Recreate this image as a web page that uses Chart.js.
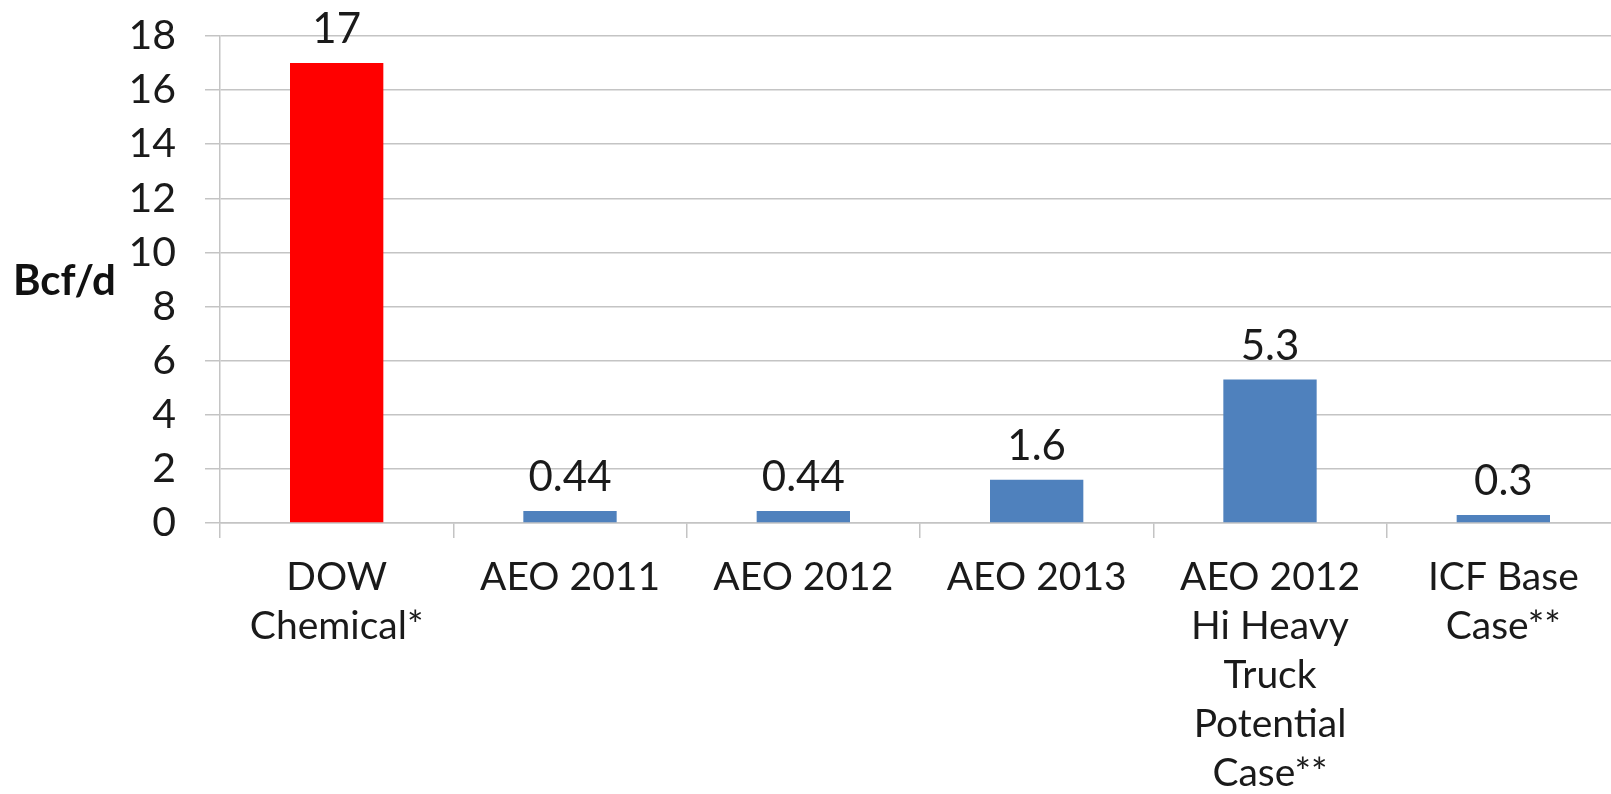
<!DOCTYPE html>
<html>
<head>
<meta charset="utf-8">
<script src="https://cdn.jsdelivr.net/npm/chart.js@4.4.1/dist/chart.umd.min.js"></script>
<style>
  html, body { margin: 0; padding: 0; background: #fff; overflow: hidden; }
  #wrap { position: relative; width: 1620px; height: 794px; }
  #ytitle {
    position: absolute; left: 13px; top: 254px;
    font: bold 42px Lato, sans-serif; color: #111;
  }
</style>
</head>
<body>
<div id="wrap">
  <canvas id="chart" width="1620" height="794"></canvas>
  <div id="ytitle">Bcf/d</div>
</div>
<script>
const categories = [
  ["DOW", "Chemical*"],
  ["AEO 2011"],
  ["AEO 2012"],
  ["AEO 2013"],
  ["AEO 2012", "Hi Heavy", "Truck", "Potential", "Case**"],
  ["ICF Base", "Case**"]
];
const values = [17, 0.44, 0.44, 1.6, 5.3, 0.3];
const barColors = ["#ff0000", "#4f81bd", "#4f81bd", "#4f81bd", "#4f81bd", "#4f81bd"];
const yMin = 0, yMax = 18, yStep = 2;

const textColor = "#1a1a1a";
const gridColor = "#c4c4c4";

const valueLabels = {
  id: "valueLabels",
  afterDatasetsDraw(chart) {
    const ctx = chart.ctx;
    const meta = chart.getDatasetMeta(0);
    ctx.save();
    ctx.font = "42px Lato, sans-serif";
    ctx.fillStyle = textColor;
    ctx.textAlign = "center";
    ctx.textBaseline = "alphabetic";
    meta.data.forEach((bar, i) => {
      ctx.fillText(String(values[i]), bar.x, bar.y - 20);
    });
    ctx.restore();
  }
};

new Chart(document.getElementById("chart"), {
  type: "bar",
  data: {
    labels: categories,
    datasets: [{
      data: values,
      backgroundColor: barColors,
      borderWidth: 0,
      categoryPercentage: 0.8,
      barPercentage: 0.5
    }]
  },
  options: {
    responsive: false,
    animation: false,
    layout: { padding: { top: 36, right: 0, bottom: 0, left: 0 } },
    plugins: { legend: { display: false }, tooltip: { enabled: false } },
    scales: {
      x: {
        grid: { drawOnChartArea: false, drawTicks: true, tickLength: 15, color: gridColor, lineWidth: 1.5 },
        border: { color: gridColor, width: 1.5 },
        ticks: {
          color: textColor,
          padding: 15,
          maxRotation: 0,
          autoSkip: false,
          font: { family: "Lato, sans-serif", size: 39, lineHeight: 1.256 }
        },
        afterFit(s) { s.height = 271; }
      },
      y: {
        min: yMin,
        max: yMax,
        grid: { color: gridColor, lineWidth: 1.5, tickLength: 15 },
        border: { color: gridColor, width: 1.5 },
        ticks: {
          stepSize: yStep,
          autoSkip: false,
          color: textColor,
          padding: 29,
          font: { family: "Lato, sans-serif", size: 41 }
        },
        afterFit(s) {
          s.width = 220;
          s.paddingTop = 0;
          s.paddingBottom = 0;
        }
      }
    }
  },
  plugins: [valueLabels]
});
</script>
</body>
</html>
